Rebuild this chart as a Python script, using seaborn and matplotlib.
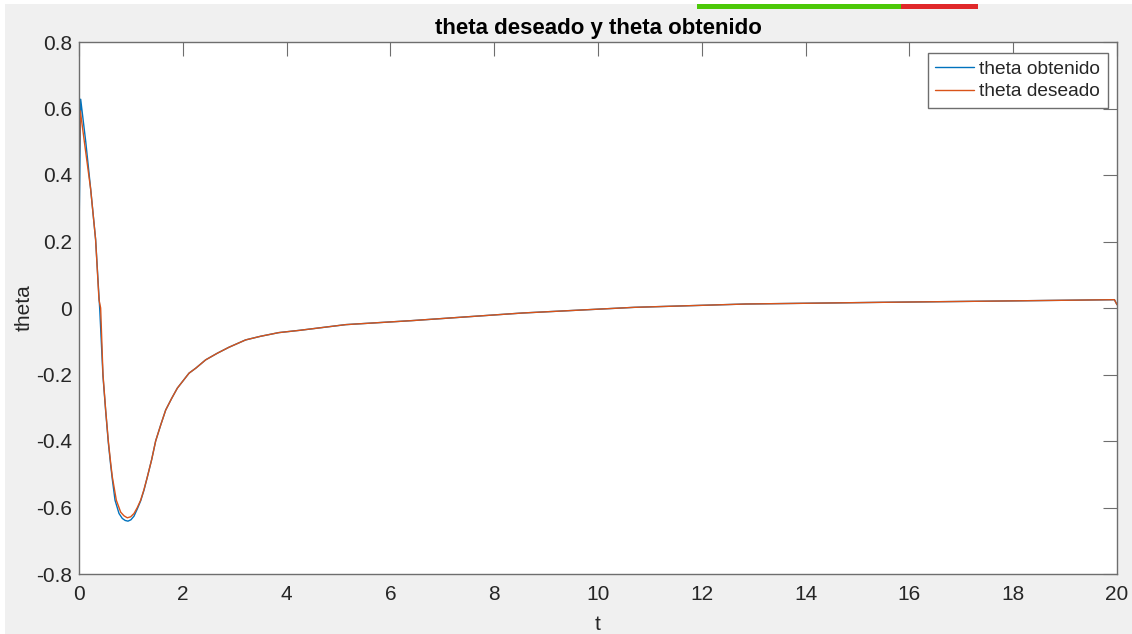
import matplotlib
matplotlib.use("Agg")
import matplotlib.pyplot as plt
from matplotlib.patches import Rectangle
import pandas as pd
import seaborn as sns

# theta obtenido (measured response)
t_obt = [0.0, 0.0, 0.032, 0.13, 0.19, 0.225, 0.32, 0.40, 0.462, 0.514, 0.565,
         0.61, 0.642, 0.694, 0.771, 0.835, 0.89, 0.944, 1.0, 1.06, 1.124,
         1.188, 1.252, 1.317, 1.40, 1.477, 1.574, 1.67, 1.785, 1.895, 2.12,
         2.25, 2.44, 2.665, 2.89, 3.21, 3.5, 3.85, 4.26, 5.14, 6.41, 7.71,
         8.55, 10.7, 12.85, 15.43, 17.75, 19.95, 20.0]
theta_obt = [0.211, 0.216, 0.628, 0.50, 0.41, 0.357, 0.206, -0.005, -0.205,
             -0.31, -0.405, -0.472, -0.515, -0.578, -0.618, -0.633, -0.639,
             -0.641, -0.637, -0.626, -0.604, -0.580, -0.548, -0.508, -0.456,
             -0.400, -0.352, -0.307, -0.272, -0.241, -0.196, -0.181, -0.156,
             -0.136, -0.118, -0.096, -0.085, -0.074, -0.067, -0.050, -0.038,
             -0.024, -0.015, 0.002, 0.012, 0.017, 0.021, 0.025, 0.010]

# theta deseado (reference trajectory)
t_des = [0.0, 0.0, 0.025, 0.12, 0.225, 0.32, 0.385, 0.417, 0.462, 0.514,
         0.565, 0.61, 0.642, 0.719, 0.803, 0.867, 0.931, 0.995, 1.06, 1.124,
         1.188, 1.252, 1.317, 1.40, 1.477, 1.574, 1.67, 1.785, 1.895, 2.12,
         2.25, 2.44, 2.665, 2.89, 3.21, 3.5, 3.85, 4.26, 5.14, 6.41, 7.71,
         8.55, 10.7, 12.85, 15.43, 17.75, 19.95, 20.0]
theta_des = [0.40, 0.407, 0.593, 0.48, 0.357, 0.206, 0.025, 0.0, -0.2,
             -0.307, -0.4, -0.466, -0.508, -0.578, -0.614, -0.625, -0.631,
             -0.628, -0.618, -0.600, -0.578, -0.546, -0.508, -0.456, -0.4,
             -0.352, -0.307, -0.272, -0.241, -0.196, -0.181, -0.156, -0.136,
             -0.118, -0.096, -0.085, -0.074, -0.067, -0.050, -0.038, -0.024,
             -0.015, 0.002, 0.012, 0.017, 0.021, 0.025, 0.010]

x_ticks = [0, 2, 4, 6, 8, 10, 12, 14, 16, 18, 20]
y_ticks = [-0.8, -0.6, -0.4, -0.2, 0, 0.2, 0.4, 0.6, 0.8]
y_tick_labels = ["-0.8", "-0.6", "-0.4", "-0.2", "0", "0.2", "0.4", "0.6", "0.8"]

sns.set_style("white")
plt.rcParams["font.family"] = ["Liberation Sans", "DejaVu Sans"]

blue = "#0072BD"
orange = "#D95319"
axis_col = "#262626"
edge_col = "#6e6e6e"

fig = plt.figure(figsize=(11.32, 6.34), dpi=100, facecolor="#f0f0f0")
ax = fig.add_axes([79 / 1132, 60 / 634, 1038 / 1132, 532 / 634])
ax.set_facecolor("white")

df_obt = pd.DataFrame({"t": t_obt, "theta": theta_obt})
df_des = pd.DataFrame({"t": t_des, "theta": theta_des})
sns.lineplot(data=df_obt, x="t", y="theta", ax=ax, color=blue, lw=1.0,
             sort=False, estimator=None, label="theta obtenido")
sns.lineplot(data=df_des, x="t", y="theta", ax=ax, color=orange, lw=1.0,
             sort=False, estimator=None, label="theta deseado")

ax.set_xlim(0, 20)
ax.set_ylim(-0.8, 0.8)
ax.set_xticks(x_ticks)
ax.set_xticklabels([str(v) for v in x_ticks])
ax.set_yticks(y_ticks)
ax.set_yticklabels(y_tick_labels)
ax.tick_params(axis="both", direction="in", length=10, width=0.8,
               color=edge_col, labelsize=15, labelcolor=axis_col,
               top=True, right=True)
ax.tick_params(axis="x", pad=8)
ax.tick_params(axis="y", pad=5)
for s in ax.spines.values():
    s.set_color(edge_col)
    s.set_linewidth(1.0)
    s.set_visible(True)

ax.set_xlabel("t", fontsize=15, color=axis_col, labelpad=8)
ax.set_ylabel("theta", fontsize=15, color=axis_col, labelpad=1.5)
ax.set_title("theta deseado y theta obtenido", fontsize=16, fontweight="bold",
             color="black", pad=6)

leg = ax.legend(loc="upper right", bbox_to_anchor=(0.991, 0.979),
                fontsize=13.8, frameon=True, fancybox=False, framealpha=1,
                handlelength=2.0, handletextpad=0.3, borderpad=0.38,
                labelspacing=0.26, borderaxespad=0)
leg.get_frame().set_edgecolor(edge_col)
leg.get_frame().set_linewidth(1.0)

# window frame and capture toolbar strip
fig.patches.append(Rectangle((0, 1 - 4 / 634), 1, 4 / 634, transform=fig.transFigure,
                             facecolor="white", edgecolor="none", zorder=0))
fig.patches.append(Rectangle((0, 0), 5 / 1132, 1, transform=fig.transFigure,
                             facecolor="white", edgecolor="none", zorder=0))
fig.patches.append(Rectangle((697 / 1132, 1 - 9 / 634), 204 / 1132, 5 / 634,
                             transform=fig.transFigure,
                             facecolor="#4cc808", edgecolor="none", zorder=1))
fig.patches.append(Rectangle((901 / 1132, 1 - 9 / 634), 77 / 1132, 5 / 634,
                             transform=fig.transFigure,
                             facecolor="#e0282a", edgecolor="none", zorder=1))

fig.savefig("out.png", dpi=100, facecolor=fig.get_facecolor())
